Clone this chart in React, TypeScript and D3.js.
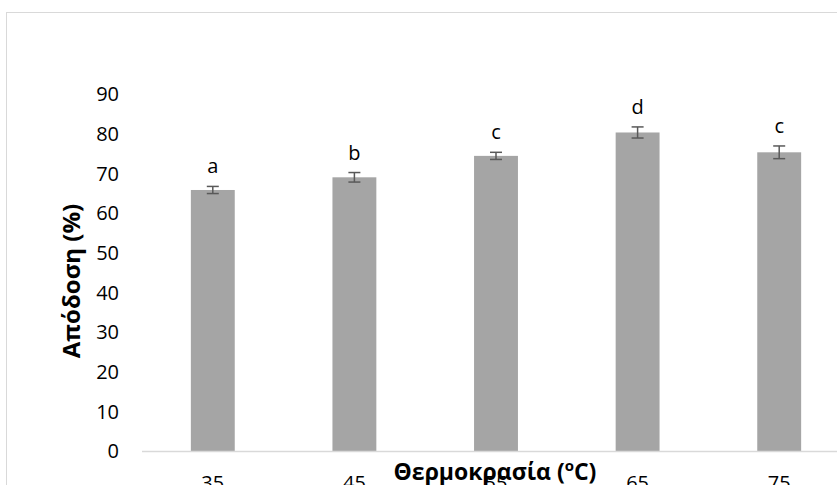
import React, { useEffect, useRef } from "react";
import * as d3 from "d3";

// temperatures (ºC), yield (%), error (±), significance letters
const temps = ["35", "45", "55", "65", "75"];
const yields = [65.8, 69.0, 74.4, 80.3, 75.3];
const errors = [0.9, 1.2, 0.9, 1.4, 1.6];
const letters = ["a", "b", "c", "d", "c"];
const yTicks = [0, 10, 20, 30, 40, 50, 60, 70, 80, 90];

const W = 837,
  H = 485;
const FONT = "'Open Sans', 'DejaVu Sans', sans-serif";

export default function App() {
  const ref = useRef<SVGSVGElement>(null);

  useEffect(() => {
    const svg = d3.select(ref.current);
    svg.selectAll("*").remove();

    // chart frame (cropped at the right/bottom)
    svg
      .append("rect")
      .attr("x", 6.5)
      .attr("y", 12.5)
      .attr("width", 900)
      .attr("height", 600)
      .attr("fill", "#fff")
      .attr("stroke", "#d9d9d9");

    const x = d3
      .scaleBand()
      .domain(temps)
      .range([142, 850])
      .paddingInner(0.69)
      .paddingOuter(0.345);
    const y = d3.scaleLinear().domain([0, 90]).range([451, 94]);

    // y tick labels
    svg
      .append("g")
      .selectAll("text")
      .data(yTicks)
      .enter()
      .append("text")
      .attr("x", 119)
      .attr("y", (d) => y(d))
      .attr("dy", "0.36em")
      .attr("text-anchor", "end")
      .attr("font-family", FONT)
      .attr("font-size", 20)
      .attr("fill", "#000")
      .text((d) => d);

    // bars
    svg
      .append("g")
      .selectAll("rect")
      .data(yields)
      .enter()
      .append("rect")
      .attr("x", (d, i) => x(temps[i])!)
      .attr("y", (d) => y(d))
      .attr("width", x.bandwidth())
      .attr("height", (d) => y(0) - y(d))
      .attr("fill", "#a5a5a5");

    // baseline
    svg
      .append("line")
      .attr("x1", 142)
      .attr("x2", W)
      .attr("y1", y(0) + 0.5)
      .attr("y2", y(0) + 0.5)
      .attr("stroke", "#d9d9d9")
      .attr("stroke-width", 1.5);

    // error bars
    const eb = svg.append("g").attr("stroke", "#595959").attr("stroke-width", 1.5);
    yields.forEach((v, i) => {
      const cx = x(temps[i])! + x.bandwidth() / 2;
      const lo = y(v - errors[i]),
        hi = y(v + errors[i]);
      eb.append("line").attr("x1", cx).attr("x2", cx).attr("y1", lo).attr("y2", hi);
      eb.append("line").attr("x1", cx - 6).attr("x2", cx + 6).attr("y1", lo).attr("y2", lo);
      eb.append("line").attr("x1", cx - 6).attr("x2", cx + 6).attr("y1", hi).attr("y2", hi);
    });

    // significance letters
    svg
      .append("g")
      .selectAll("text")
      .data(letters)
      .enter()
      .append("text")
      .attr("x", (d, i) => x(temps[i])! + x.bandwidth() / 2)
      .attr("y", (d, i) => y(yields[i] + errors[i]) - 13)
      .attr("text-anchor", "middle")
      .attr("font-family", FONT)
      .attr("font-size", 20)
      .attr("fill", "#000")
      .text((d) => d);

    // x tick labels (cut off at the bottom)
    svg
      .append("g")
      .selectAll("text")
      .data(temps)
      .enter()
      .append("text")
      .attr("x", (d) => x(d)! + x.bandwidth() / 2)
      .attr("y", 490)
      .attr("text-anchor", "middle")
      .attr("font-family", FONT)
      .attr("font-size", 20)
      .attr("fill", "#000")
      .text((d) => d);

    // axis titles
    const xt = svg
      .append("text")
      .attr("x", 495)
      .attr("y", 480)
      .attr("text-anchor", "middle")
      .attr("font-family", FONT)
      .attr("font-size", 23)
      .attr("font-weight", "bold")
      .attr("fill", "#000");
    xt.append("tspan").text("Θερμοκρασία (");
    xt.append("tspan").attr("font-size", 15).attr("dy", -9).text("o");
    xt.append("tspan").attr("dy", 9).text("C)");

    svg
      .append("text")
      .attr("transform", `translate(80,281) rotate(-90)`)
      .attr("text-anchor", "middle")
      .attr("font-family", FONT)
      .attr("font-size", 24)
      .attr("font-weight", "bold")
      .attr("fill", "#000")
      .text("Απόδοση (%)");
  }, []);

  return (
    <svg
      ref={ref}
      width={W}
      height={H}
      style={{ position: "absolute", left: 0, top: 0, background: "#fff" }}
    ></svg>
  );
}
